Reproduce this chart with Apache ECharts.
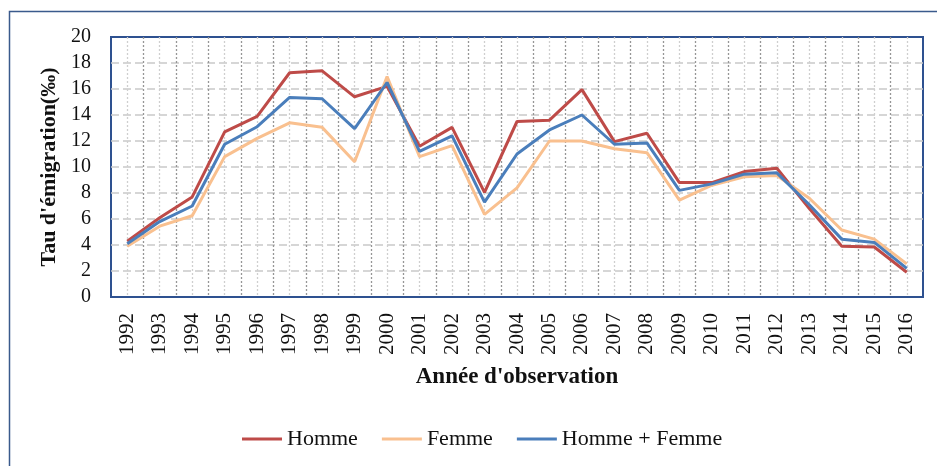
<!DOCTYPE html>
<html>
<head>
<meta charset="utf-8">
<script src="https://cdn.jsdelivr.net/npm/echarts@6/dist/echarts.min.js"></script>
<style>
html, body { margin: 0; padding: 0; background: #fff; }
#main { width: 937px; height: 466px; }
</style>
</head>
<body>
<div id="main"></div>
<script>
var myChart = echarts.init(document.getElementById('main'));
var serif = "'Liberation Serif', 'Times New Roman', serif";

// années
var years = ['1992', '1993', '1994', '1995', '1996', '1997', '1998', '1999', '2000', '2001', '2002', '2003', '2004',
	'2005', '2006', '2007', '2008', '2009', '2010', '2011', '2012', '2013', '2014', '2015', '2016'];

// taux d'émigration (‰)
var homme = [4.3, 6.1, 7.7, 12.7, 13.9, 17.25, 17.4, 15.4, 16.2, 11.6, 13.05, 8.05, 13.5,
	13.6, 15.95, 11.95, 12.6, 8.8, 8.8, 9.65, 9.9, 6.8, 3.9, 3.85, 1.9];
var femme = [3.9, 5.45, 6.25, 10.8, 12.2, 13.4, 13.05, 10.4, 16.95, 10.8, 11.65, 6.35, 8.4,
	12.0, 12.0, 11.4, 11.1, 7.45, 8.6, 9.25, 9.35, 7.6, 5.15, 4.45, 2.55];
var total = [4.1, 5.8, 7.0, 11.75, 13.1, 15.35, 15.25, 12.95, 16.5, 11.2, 12.4, 7.3, 11.0,
	12.85, 14.0, 11.75, 11.85, 8.2, 8.7, 9.45, 9.55, 7.1, 4.45, 4.2, 2.2];

var names = ['Homme', 'Femme', 'Homme + Femme'];
var colors = ['#be4b48', '#f9c08f', '#4a7ebb'];

var option = {
	backgroundColor: '#fff',
	animation: false,
	color: colors,
	textStyle: { fontFamily: serif },
	graphic: [{
		type: 'rect',
		shape: { x: 9.5, y: 11.5, width: 1000, height: 600 },
		style: { fill: 'none', stroke: '#3a5a8c', lineWidth: 1.5 },
		silent: true
	}],
	legend: {
		data: names,
		left: 237,
		top: 423,
		icon: 'rect',
		itemWidth: 40,
		itemHeight: 3,
		itemGap: 24,
		textStyle: { fontFamily: serif, fontSize: 22, color: '#111' }
	},
	grid: {
		left: 111,
		right: 14,
		top: 37,
		bottom: 169,
		show: true,
		borderColor: '#2e5190',
		borderWidth: 2,
		containLabel: false
	},
	xAxis: [{
		type: 'category',
		data: years,
		boundaryGap: true,
		name: "Année d'observation",
		nameLocation: 'middle',
		nameGap: 69,
		nameTextStyle: { fontFamily: serif, fontSize: 23, fontWeight: 'bold', color: '#111' },
		axisLine: { show: false },
		axisTick: { show: false },
		splitLine: { show: false },
		axisLabel: {
			rotate: 90,
			margin: 16,
			interval: 0,
			fontFamily: serif,
			fontSize: 21,
			color: '#111'
		}
	}, {
		// grille verticale : demi-pas de catégorie
		type: 'value',
		min: 0,
		max: 50,
		interval: 1,
		position: 'top',
		axisLine: { show: false },
		axisTick: { show: false },
		axisLabel: { show: false },
		splitLine: {
			show: true,
			showMinLine: false,
			showMaxLine: false,
			lineStyle: { color: ['#cfcfcf', '#969696'], type: [2, 2], width: 1.3 }
		}
	}],
	yAxis: {
		type: 'value',
		min: 0,
		max: 20,
		interval: 2,
		name: "Tau d'émigration(‰)",
		nameLocation: 'middle',
		nameGap: 49,
		nameTextStyle: { fontFamily: serif, fontSize: 22, fontWeight: 'bold', color: '#111' },
		axisLine: { show: false },
		axisTick: { show: false },
		axisLabel: { margin: 20, fontFamily: serif, fontSize: 20, color: '#111' },
		splitLine: {
			showMinLine: false,
			showMaxLine: false,
			lineStyle: { color: '#c9c9c9', type: [8, 4], width: 1.5 }
		}
	},
	series: [{
		name: names[0],
		type: 'line',
		data: homme,
		showSymbol: false,
		lineStyle: { width: 3, color: colors[0] }
	}, {
		name: names[1],
		type: 'line',
		data: femme,
		showSymbol: false,
		lineStyle: { width: 3, color: colors[1] }
	}, {
		name: names[2],
		type: 'line',
		data: total,
		showSymbol: false,
		lineStyle: { width: 3, color: colors[2] }
	}]
};

myChart.setOption(option);
</script>
</body>
</html>
